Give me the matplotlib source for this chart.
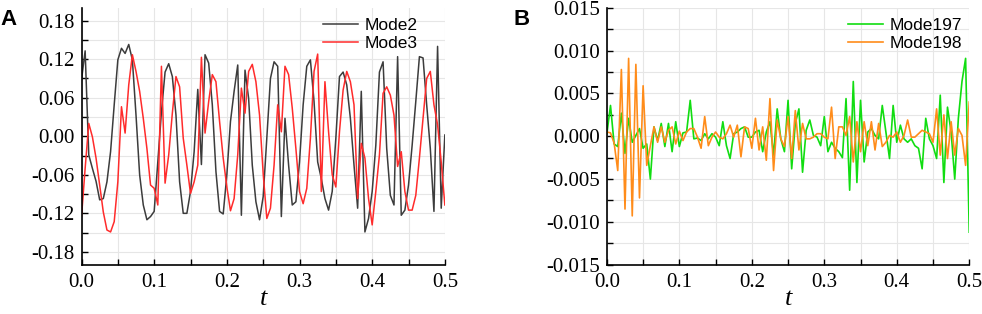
import numpy as np
import matplotlib
matplotlib.use("Agg")
import matplotlib.pyplot as plt
from matplotlib.ticker import MultipleLocator, FormatStrFormatter

# ---- data (time step ~0.005) ----
mode2 = [0.088, 0.133, -0.029, -0.05, -0.07, -0.099, -0.097, -0.071, -0.024, 0.049,
         0.119, 0.137, 0.129, 0.143, 0.119, 0.033, -0.06, -0.107, -0.13, -0.125,
         -0.117, -0.04, 0.038, 0.10, 0.113, 0.093, 0.033, -0.071, -0.12, -0.12,
         -0.086, -0.024, 0.073, -0.044, 0.127, 0.114, 0.049, -0.055, -0.117, -0.121,
         -0.06, 0.023, 0.07, 0.111, -0.123, 0.103, 0.059, -0.045, -0.102, -0.13,
         -0.094, -0.003, 0.09, 0.116, 0.109, -0.125, 0.028, -0.045, -0.107, -0.102,
         -0.04, 0.049, 0.109, 0.119, 0.054, -0.04, -0.066, -0.097, -0.115, -0.086,
         -0.003, 0.093, 0.10, 0.08, 0.028, -0.045, -0.112, 0.07, -0.149, -0.128,
         -0.086, -0.014, 0.10, 0.116, -0.019, -0.092, -0.107, 0.124, -0.123, -0.115,
         -0.076, -0.014, 0.054, 0.124, 0.122, 0.049, -0.019, -0.117, 0.14, -0.112,
         0.002]
mode3 = [-0.125, -0.05, 0.020, -0.001, -0.034, -0.076, -0.118, -0.146, -0.149, -0.133,
         -0.071, 0.046, 0.005, 0.080, 0.127, 0.101, 0.070, 0.028, -0.019, -0.076,
         -0.081, -0.107, 0.109, -0.073, -0.029, 0.036, 0.093, 0.077, -0.003, -0.045,
         -0.089, -0.071, -0.045, 0.123, 0.005, 0.054, 0.096, 0.085, 0.023, -0.034,
         -0.079, -0.116, -0.097, -0.029, 0.075, 0.036, 0.101, 0.112, 0.085, 0.033,
         -0.058, -0.128, -0.112, -0.045, 0.049, 0.007, 0.109, 0.096, 0.044, -0.019,
         -0.086, -0.105, -0.081, -0.003, 0.101, 0.128, -0.086, 0.085, 0.007, -0.060,
         -0.079, 0.007, 0.072, 0.101, 0.085, 0.049, -0.097, -0.011, -0.034, -0.097,
         -0.138, -0.086, -0.029, 0.067, 0.077, 0.064, 0.033, -0.047, -0.024, -0.086,
         -0.115, -0.115, -0.092, -0.034, 0.028, 0.090, 0.101, 0.049, 0.018, -0.040,
         -0.107]
mode197 = [0.0003, 0.0036, -0.0009, -0.0012, 0.0027, -0.0020, 0.0021, -0.0007, 0.0001, 0.0009,
           -0.0014, -0.0009, -0.005, 0.0011, -0.0005, 0.0015, -0.0012, 0.0015, -0.0018, 0.0017,
           -0.0012, 0.0004, 0.0005, 0.0042, -0.0003, -0.0002, -0.0005, 0.0003, -0.0003, 0.0003,
           -0.0001, -0.0011, 0.0017, -0.0011, -0.0026, 0.0003, 0.0005, 0.0009, 0.0011, -0.0001,
           -0.0001, 0.0005, 0.0007, -0.0018, 0.0005, 0.0017, -0.0022, 0.0032, -0.0003, -0.0018,
           0.0042, -0.0038, 0.0015, 0.0032, -0.0042, 0.0007, 0.0019, 0.0001, -0.0001, -0.0011,
           0.0023, -0.0018, -0.0007, -0.0014, -0.0018, -0.0025, 0.0044, -0.0063, 0.0064, -0.0054,
           0.0042, -0.003, 0.0005, 0.0009, 0.0001, -0.0003, 0.0036, 0.0005, -0.0026, 0.0036,
           -0.0007, 0.0013, -0.0003, -0.0007, -0.0003, -0.0011, -0.0014, -0.0038, 0.0021, -0.0003,
           -0.0011, -0.0026, 0.0048, -0.0054, 0.0034, 0.0005, -0.005, 0.0021, 0.0064, 0.0091,
           -0.0112]
mode198 = [0.0005, 0.0004, -0.0008, -0.004, 0.0078, -0.0085, 0.0091, -0.0093, 0.0084, -0.0072,
           0.0059, -0.0034, -0.0011, 0.0011, -0.0007, 0.0011, -0.0007, 0.0007, 0.0011, -0.0009,
           0.0006, -0.0005, 0.0005, 0.0009, 0.0009, -0.0001, -0.0014, 0.0023, -0.0011, -0.0001,
           0.0005, -0.0001, -0.0003, 0.0003, 0.0013, -0.0001, 0.0013, -0.0024, 0.0011, 0.0009,
           -0.0014, 0.0021, -0.0016, 0.0011, -0.0028, 0.0044, -0.004, 0.0019, -0.0003, -0.0012,
           0.0023, -0.0026, 0.003, -0.0016, 0.0015, -0.0003, -0.0003, -0.0001, 0.0003, 0.0003,
           -0.0001, -0.0003, 0.0034, -0.0026, 0.0011, 0.0011, 0.0001, 0.0023, -0.003, 0.0017,
           -0.0018, 0.0017, -0.0011, 0.0017, -0.0016, 0.0015, -0.0012, -0.0007, 0.0001, -0.0001,
           0.0005, -0.0007, 0.0001, 0.0019, -0.0001, -0.0001, 0.0003, 0.0007, 0.0005, 0.0003,
           -0.0007, 0.0032, -0.0022, 0.0025, -0.0026, 0.0017, -0.0022, 0.0009, 0.0001, -0.0034,
           0.004]

T_END = 0.5
plt.rcParams["axes.unicode_minus"] = False
SERIF = "Liberation Serif"
SANS = "Liberation Sans"


def style_axes(ax, ylim, ymajor, yminor, yfmt):
    ax.set_xlim(0, T_END)
    ax.set_ylim(*ylim)
    ax.xaxis.set_major_locator(MultipleLocator(0.1))
    ax.xaxis.set_minor_locator(MultipleLocator(0.05))
    ax.yaxis.set_major_locator(MultipleLocator(ymajor))
    ax.yaxis.set_minor_locator(MultipleLocator(yminor))
    ax.xaxis.set_major_formatter(FormatStrFormatter("%.1f"))
    ax.yaxis.set_major_formatter(FormatStrFormatter(yfmt))
    ax.grid(which="both", color="#e6e6e6", lw=0.8)
    ax.set_axisbelow(True)
    for s in ("top", "right"):
        ax.spines[s].set_visible(False)
    for s in ("left", "bottom"):
        ax.spines[s].set_linewidth(1.2)
    ax.tick_params(which="both", direction="in", length=4, width=1.0,
                   top=False, right=False)
    ax.tick_params(axis="y", pad=5)
    ax.tick_params(axis="x", pad=6)
    for lab in ax.get_xticklabels() + ax.get_yticklabels():
        lab.set_fontfamily(SERIF)
        lab.set_fontsize(15)
    ax.set_xlabel("t", fontfamily=SERIF, fontstyle="italic", fontsize=19, labelpad=-3)


fig = plt.figure(figsize=(9.82, 3.14), dpi=100)
axA = fig.add_axes([0.083, 0.157, 0.370, 0.818])
axB = fig.add_axes([0.618, 0.157, 0.369, 0.818])

tA = np.linspace(0, T_END, len(mode2))
axA.plot(tA, mode2, color="#3c3c3c", lw=1.1, label="Mode2")
axA.plot(np.linspace(0, T_END, len(mode3)), mode3, color="#ff2b2b", lw=1.1, label="Mode3")
style_axes(axA, (-0.2, 0.2), 0.06, 0.03, "%.2f")
axA.legend(loc="upper right", bbox_to_anchor=(0.955, 1.0), frameon=False,
           prop={"family": SANS, "size": 12.5}, handlelength=2.0,
           handletextpad=0.4, labelspacing=0.15, borderaxespad=0.2)

tB = np.linspace(0, T_END, len(mode197))
axB.plot(tB, mode197, color="#11dd11", lw=1.2, label="Mode197")
axB.plot(np.linspace(0, T_END, len(mode198)), mode198, color="#ff8c1a", lw=1.2, label="Mode198")
style_axes(axB, (-0.015, 0.015), 0.005, 0.0025, "%.3f")
axB.legend(loc="upper right", bbox_to_anchor=(1.01, 1.0), frameon=False,
           prop={"family": SANS, "size": 12.5}, handlelength=2.0,
           handletextpad=0.4, labelspacing=0.15, borderaxespad=0.2)

fig.text(0.0, 0.97, "A", fontfamily=SANS, fontweight="bold", fontsize=16, va="top")
fig.text(0.523, 0.97, "B", fontfamily=SANS, fontweight="bold", fontsize=16, va="top")

fig.savefig("out.png", dpi=100)
